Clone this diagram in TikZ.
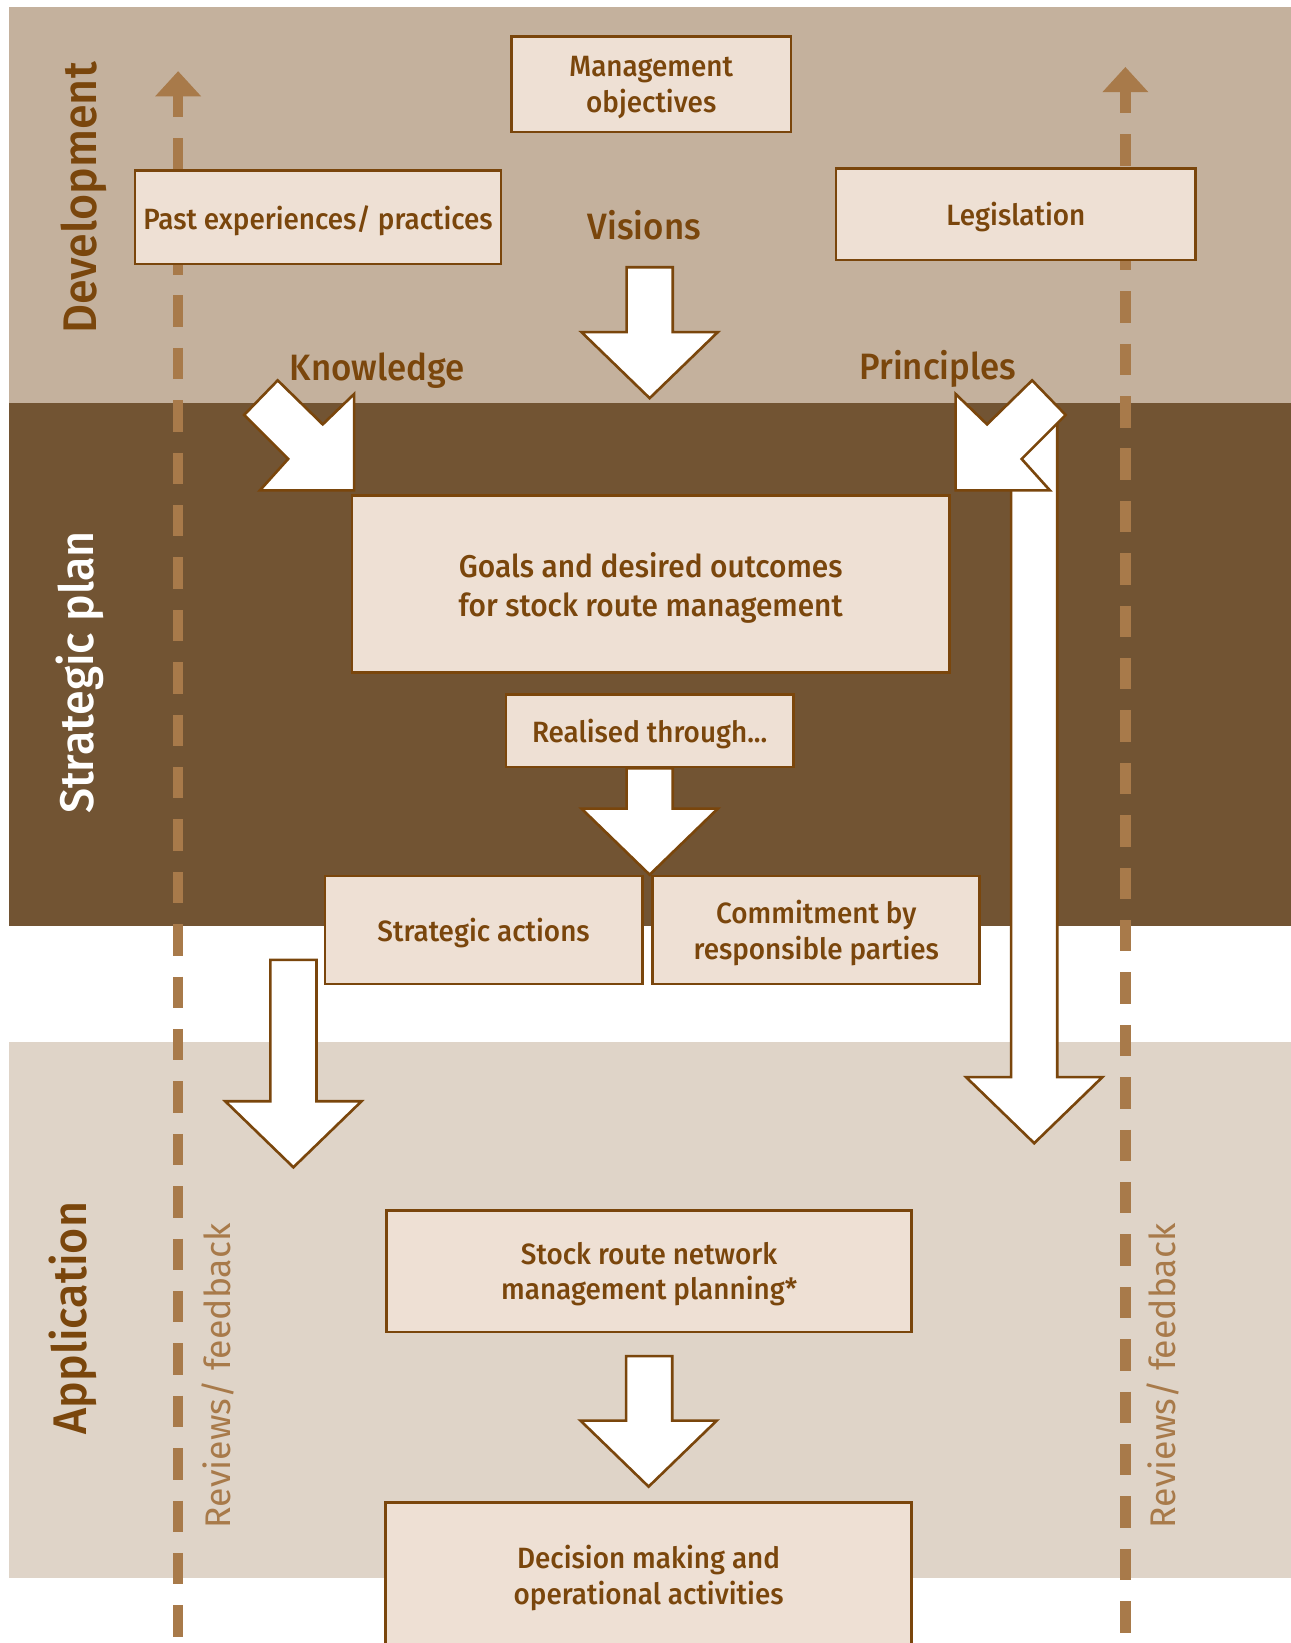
\documentclass[tikz,border=0pt]{standalone}
\usepackage{fontspec}
\setmainfont{Fira Sans}[UprightFont=* Medium, FakeStretch=0.95]
\newfontfamily\fbfont{Fira Sans}
\usetikzlibrary{calc}
\definecolor{tanband}{RGB}{196,177,157}
\definecolor{darkband}{RGB}{114,84,51}
\definecolor{lightband}{RGB}{223,212,200}
\definecolor{boxfill}{RGB}{238,224,212}
\definecolor{brn}{RGB}{122,70,12}
\definecolor{fbcol}{RGB}{168,122,74}
% straight block arrow from top point to tip point
\newcommand{\blockdown}[2]{%
\draw[blk] let \p1=(#1), \p2=(#2) in
  (\x1-22pt,\y1) -- (\x1+22pt,\y1) -- (\x1+22pt,\y2+63pt) -- (\x2+65pt,\y2+63pt)
  -- (\x2,\y2) -- (\x2-65pt,\y2+63pt) -- (\x1-22pt,\y2+63pt) -- cycle;}
\begin{document}
\begin{tikzpicture}[x=1pt,y=-1pt,
  box/.style={draw=brn, fill=boxfill, line width=2.5pt, text=brn, align=center, inner sep=0pt, text depth=-3pt, font=\fontsize{28}{34}\selectfont},
  blk/.style={draw=brn, fill=white, line width=2.5pt, line join=miter},
  fb/.style={fbcol, line width=10pt, dash pattern=on 30pt off 20pt, dash phase=10pt},
  lbl/.style={text=brn, anchor=base, font=\fontsize{35}{40}\selectfont},
  side/.style={rotate=90, anchor=base, font=\fontsize{45}{50}\selectfont}]
\useasboundingbox (0,0) rectangle (1232,1568);
% bands
\fill[tanband] (9,7) rectangle (1232,385);
\fill[darkband] (9,385) rectangle (1232,884);
\fill[lightband] (9,994) rectangle (1232,1506);
% reviews / feedback lines
\coordinate (fbl0) at (170,1568);
\coordinate (fbl1) at (170,92);
\coordinate (fbr0) at (1074,1568);
\coordinate (fbr1) at (1074,88);
\draw[fb] (fbl1) -- (fbl0);
\draw[fb] (fbr1) -- (fbr0);
\fill[fbcol] (fbl1) ++(0,-24) -- ++(22,24) -- ++(-44,0) -- cycle;
\fill[fbcol] (fbr1) ++(0,-24) -- ++(22,24) -- ++(-44,0) -- cycle;
\node[side, text=fbcol, font=\fbfont\fontsize{34}{40}\selectfont] (revl) at (220,1313) {Reviews/ feedback};
\node[side, text=fbcol, font=\fbfont\fontsize{34}{40}\selectfont] (revr) at (1122,1313) {Reviews/ feedback};
% side titles
\node[side, text=brn] (dev) at (92,189) {Development};
\node[side, text=white] (plan) at (89,642) {Strategic plan};
\node[side, text=brn] (app) at (83,1258) {Application};
% long arrow under principles
\coordinate (ptop) at (987,404);
\coordinate (ptip) at (987,1091);
\blockdown{ptop}{ptip}
% boxes
\node[box, minimum width=267pt, minimum height=91pt] (mgmt) at (621.5,80.5) {Management\\objectives};
\node[box, minimum width=349pt, minimum height=89pt] (past) at (303.5,207.5) {Past experiences/ practices};
\node[box, minimum width=343pt, minimum height=87pt] (legis) at (969.5,204.5) {Legislation};
\node[box, minimum width=570pt, minimum height=169pt, font=\fontsize{30}{37}\selectfont] (goals) at (621,557.5) {Goals and desired outcomes\\for stock route management};
\node[box, minimum width=274pt, minimum height=69pt] (real) at (620,697.5) {Realised through...};
\node[box, minimum width=303pt, minimum height=103pt] (stract) at (461.5,887.5) {Strategic actions};
\node[box, minimum width=312pt, minimum height=103pt] (commit) at (779,887.5) {Commitment by\\responsible parties};
\node[box, minimum width=501pt, minimum height=116pt] (stock) at (619.5,1213) {Stock route network\\management planning*};
\node[box, minimum width=502pt, minimum height=138pt] (dec) at (619,1503) {Decision making and\\operational activities};
% labels
\node[lbl] (vis) at (615,229) {Visions};
\node[lbl] (know) at (360,363) {Knowledge};
\node[lbl] (prin) at (895,362) {Principles};
% block arrows
\coordinate (vtop) at (620,255);
\coordinate (vtip) at (620,380);
\blockdown{vtop}{vtip}
\blockdown{real.south}{real.south |- stract.north}
\coordinate (stop) at (280,916);
\coordinate (stip) at (280,1114);
\blockdown{stop}{stip}
\coordinate (ktop) at ($(stock.south)+(0,22)$);
\coordinate (ktip) at ($(dec.north)+(0,-14)$);
\blockdown{ktop}{ktip}
% diagonal arrows
\draw[blk] (338,468) -- ++(0,-92) -- ++(-30,29) -- ++(-43,-42) -- ++(-32,33) -- ++(42,42) -- ++(-27,30) -- cycle;
\draw[blk] (912,468) -- ++(0,-92) -- ++(30,29) -- ++(43,-42) -- ++(32,33) -- ++(-42,42) -- ++(27,30) -- cycle;
\end{tikzpicture}
\end{document}
